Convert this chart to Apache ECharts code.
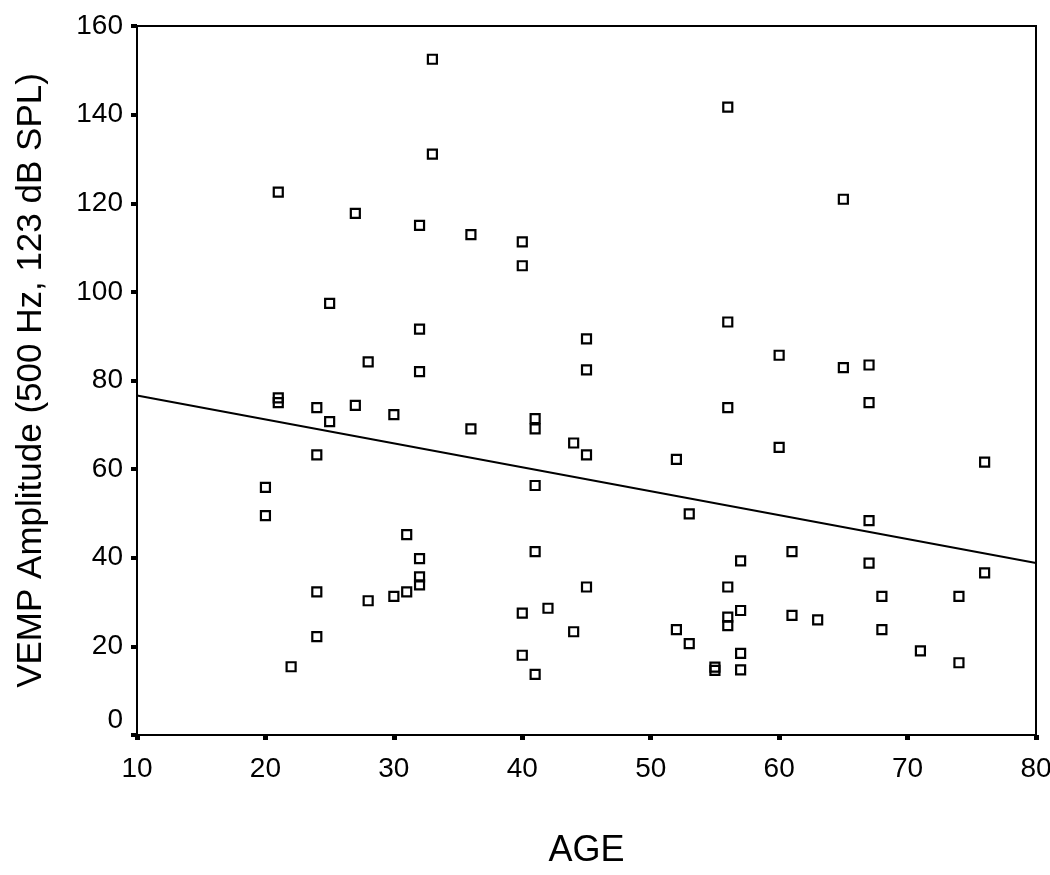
<!DOCTYPE html>
<html>
<head>
<meta charset="utf-8">
<script src="https://cdn.jsdelivr.net/npm/echarts@6/dist/echarts.min.js"></script>
<style>
html,body{margin:0;padding:0;background:#fff;overflow:hidden;}
#chart{width:1050px;height:875px;}
</style>
</head>
<body>
<div id="chart"></div>
<script>
// Ages and VEMP amplitudes
const ages = [
  20,20,
  21,21,21,
  22,
  24,24,24,24,
  25,25,
  27,27,
  28,28,
  30,30,
  31,31,
  32,32,32,32,32,32,
  33,33,
  36,36,
  40,40,40,40,
  41,41,41,41,41,
  42,
  44,44,
  45,45,45,45,
  52,52,
  53,53,
  55,55,
  56,56,56,56,56,56,
  57,57,57,57,
  60,60,
  61,61,
  63,
  65,65,
  67,67,67,67,
  68,68,
  71,
  74,74,
  76,76
];
const amplitudes = [
  55.9,49.5,
  122.5,76.1,75.0,
  15.4,
  73.9,63.2,32.3,22.2,
  97.4,70.7,
  117.7,74.4,
  84.2,30.3,
  72.3,31.3,
  45.2,32.3,
  115.0,91.6,82.0,39.8,35.7,33.9,
  152.5,131.1,
  112.9,69.1,
  111.3,105.9,27.5,18.0,
  71.4,69.1,56.3,41.4,13.7,
  28.6,
  65.9,23.3,
  89.4,82.4,63.2,33.4,
  62.2,23.8,
  49.9,20.6,
  15.3,14.6,
  141.7,93.2,73.9,33.4,26.6,24.7,
  39.3,28.1,18.4,14.7,
  85.7,64.9,
  41.4,27.0,
  26.0,
  120.9,82.9,
  83.5,75.0,48.4,38.8,
  31.3,23.8,
  19.0,
  31.3,16.3,
  61.6,36.6
];
// Fit line end points
const fitAges = [10, 80];
const fitValues = [76.6, 38.8];

const xTitle = 'AGE';
const yTitle = 'VEMP Amplitude (500 Hz, 123 dB SPL)';

const points = ages.map((a, i) => [a, amplitudes[i]]);
const fitLine = fitAges.map((a, i) => [a, fitValues[i]]);

const FONT = "'Liberation Sans', Arial, Helvetica, sans-serif";
const chart = echarts.init(document.getElementById('chart'));
chart.setOption({
  animation: false,
  backgroundColor: '#fff',
  grid: {
    left: 137, right: 14, top: 26, bottom: 140,
    containLabel: false,
    outerBoundsMode: 'none',
    show: true, borderColor: '#000', borderWidth: 2, backgroundColor: 'transparent'
  },
  xAxis: {
    type: 'value', min: 10, max: 80, interval: 10,
    name: xTitle, nameLocation: 'middle', nameGap: 98,
    nameTextStyle: {fontFamily: FONT, fontSize: 36, color: '#000'},
    axisLine: {show: true, lineStyle: {color: '#000', width: 2}},
    axisTick: {show: true, length: 5, lineStyle: {color: '#000', width: 5}},
    axisLabel: {fontFamily: FONT, fontSize: 28, color: '#000', margin: 20},
    splitLine: {show: false}
  },
  yAxis: {
    type: 'value', min: 0, max: 160, interval: 20,
    name: yTitle, nameLocation: 'middle', nameGap: 88,
    nameTextStyle: {fontFamily: FONT, fontSize: 35, color: '#000'},
    axisLine: {show: true, lineStyle: {color: '#000', width: 2}},
    axisTick: {show: true, length: 6, lineStyle: {color: '#000', width: 4}},
    axisLabel: {
      fontFamily: FONT, fontSize: 28, color: '#000', margin: 14,
      formatter: function (v) { return v === 0 ? '{z|0}' : String(v); },
      rich: {z: {fontFamily: FONT, fontSize: 28, color: '#000', padding: [0, 0, 30, 0]}}
    },
    splitLine: {show: false}
  },
  series: [
    {
      type: 'scatter',
      data: points,
      symbol: 'rect',
      symbolSize: 9,
      itemStyle: {color: 'rgba(0,0,0,0)', borderColor: '#000', borderWidth: 2.2, opacity: 1},
      z: 3
    },
    {
      type: 'line',
      data: fitLine,
      symbol: 'none',
      lineStyle: {color: '#000', width: 2},
      z: 2
    }
  ]
});
</script>
</body>
</html>
